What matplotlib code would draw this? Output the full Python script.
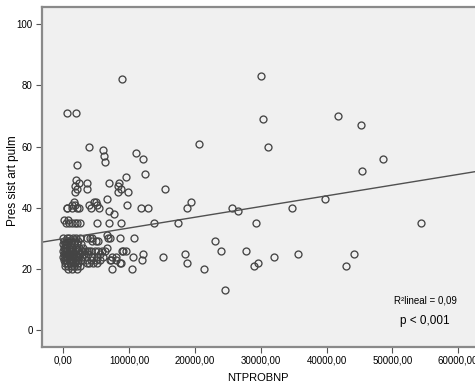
import matplotlib
matplotlib.use('Agg')
import matplotlib.pyplot as plt
import numpy as np

plt.rcParams['font.family'] = ['Liberation Sans', 'DejaVu Sans']

# NTPROBNP (x) y presion sistolica de arteria pulmonar (y), por filas de presion
pres = [
    (13, [24530]),
    (20, [760, 1370, 2030, 7400, 10440, 21380]),
    (21, [300, 700, 1200, 1600, 2100, 2500, 29030, 42960]),
    (22, [200, 600, 1000, 1400, 1800, 2300, 3550, 3950, 4560, 5070, 8620, 8720, 18840, 29640]),
    (23, [150, 450, 800, 1100, 1500, 1900, 2200, 2700, 3600, 4200, 5000, 5600, 7100, 7250, 8010, 11910]),
    (24, [0, 300, 600, 900, 1300, 1600, 2100, 2400, 2900, 4310, 5070, 6080, 7360, 7960, 10640, 15150, 32020]),
    (25, [100, 400, 700, 1000, 1400, 1700, 2000, 2600, 3100, 3800, 5620, 12110, 18500, 35620, 44130]),
    (26, [0, 250, 500, 900, 1200, 1500, 1800, 2300, 2800, 3300, 3550, 3950, 4210, 4820, 5320, 5830,
          6340, 8870, 9120, 9480, 23970, 27720]),
    (27, [50, 350, 800, 1300, 1900, 2400, 3000, 6640]),
    (28, [0, 200, 600, 1100, 1600, 2100, 2700]),
    (29, [100, 400, 700, 1200, 1800, 2200, 4310, 4920, 5320, 23010]),
    (30, [0, 510, 810, 1520, 1930, 2540, 3650, 4050, 4360, 6840, 7140, 8620, 10700]),
    (31, [6590]),
    (35, [410, 910, 1320, 1730, 2030, 2540, 5070, 6950, 8820, 13780, 17480, 29330, 54310]),
    (36, [150, 760]),
    (38, [7750]),
    (39, [6950, 26500]),
    (40, [520, 610, 1320, 2030, 2430, 4160, 5470, 11810, 12820, 18800, 25640, 34710]),
    (41, [1270, 1730, 3900, 5070, 9680]),
    (42, [1580, 4710, 4920, 19450]),
    (43, [6590, 39720]),
    (45, [1780, 8360, 9780]),
    (46, [2030, 3550, 8770, 15500]),
    (47, [1730, 8260]),
    (48, [2340, 3600, 6950, 8420]),
    (49, [1930]),
    (50, [9580]),
    (51, [12420]),
    (52, [45350]),
    (54, [2030]),
    (55, [6290]),
    (56, [12160, 48540]),
    (57, [6190]),
    (58, [11000]),
    (59, [6080]),
    (60, [3950, 31060]),
    (61, [20600]),
    (67, [45290]),
    (69, [30400]),
    (70, [41790]),
    (71, [500, 2000]),
    (82, [8970]),
    (83, [30090]),
]

# recta de ajuste lineal (R2 = 0,09)
fit_intercept = 29.9
fit_slope = 0.00035

x_ticks = [0, 10000, 20000, 30000, 40000, 50000, 60000]
y_ticks = [0, 20, 40, 60, 80, 100]

xs = []
ys = []
for p, lista in pres:
    for v in lista:
        xs.append(v)
        ys.append(p)

fig = plt.figure(figsize=(4.75, 3.91), dpi=100)
ax = fig.add_axes([0.0878, 0.1133, 0.9122, 0.8687])
ax.set_facecolor('#f0f0f0')

ax.plot(xs, ys, linestyle='none', marker='o', markersize=5, markerfacecolor='none',
        markeredgecolor='#444444', markeredgewidth=0.95)

xmin, xmax = -3280, 62560
lx = np.array([xmin, xmax])
ax.plot(lx, fit_intercept + fit_slope * lx, color='#505050', linewidth=1.0)

ax.set_xlim(xmin, xmax)
ax.set_ylim(-5.4, 105.6)
ax.set_xticks(x_ticks)
ax.set_xticklabels([f'{t},00' for t in x_ticks])
ax.set_yticks(y_ticks)
ax.tick_params(axis='both', labelsize=7, length=4, width=0.8, color='#555555', pad=2.5)

for s in ax.spines.values():
    s.set_color('#8a8a8a')
    s.set_linewidth(1.6)
ax.spines['right'].set_visible(False)

ax.set_xlabel('NTPROBNP', fontsize=8, labelpad=5)
ax.set_ylabel('Pres sist art pulm', fontsize=8.5)
ax.yaxis.set_label_coords(-0.052, 0.49)

ax.text(55000, 9.6, 'R²lineal = 0,09', fontsize=7, ha='center', va='center')
ax.text(55000, 3.0, 'p < 0,001', fontsize=8.5, ha='center', va='center')

fig.savefig('out.png', dpi=100)
